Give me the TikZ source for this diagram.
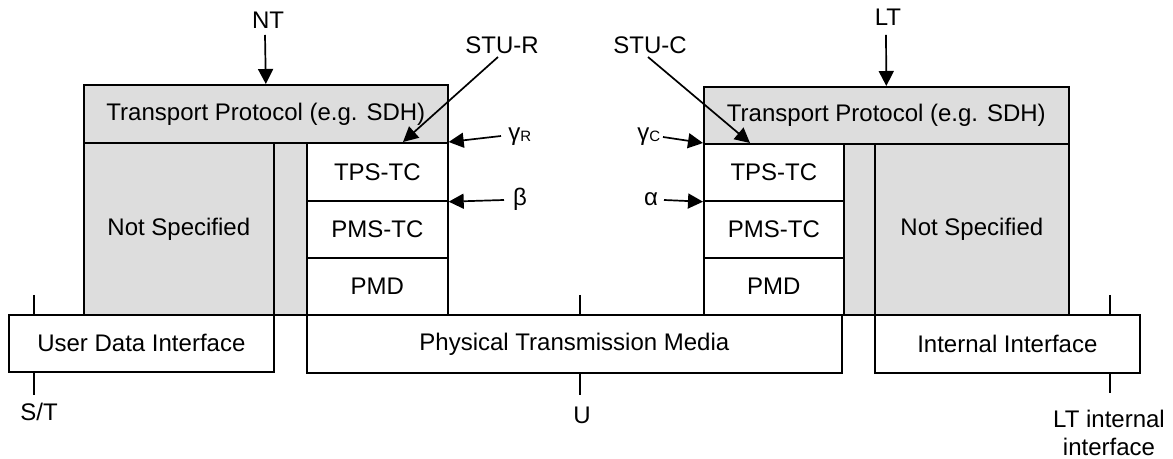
\documentclass[tikz,border=0pt]{standalone}
\usepackage{fontspec}
\setmainfont{Liberation Sans}
\usetikzlibrary{arrows.meta}
\definecolor{fillgray}{RGB}{221,221,221}
\begin{document}
\begin{tikzpicture}[x=0.5pt,y=-0.5pt,
  font=\fontsize{12pt}{14pt}\selectfont,
  box/.style={draw, line width=0.85pt, inner sep=0pt, anchor=north west},
  greybox/.style={box, fill=fillgray},
  wbox/.style={box, fill=white},
  lbl/.style={inner sep=0pt},
  arr/.style={-{Triangle[length=7.5pt,width=7.5pt]}, line width=0.85pt},
  tickline/.style={line width=0.85pt}]
\path[use as bounding box, fill=white] (0,0) rectangle (1173,459);

% ---- left side (NT) ----
\node[greybox, minimum width=182pt, minimum height=29pt] (tpL) at (83,84) {Transport Protocol (e.g. SDH)};
\node[greybox, minimum width=95pt, minimum height=86pt] (nsL) at (83,142) {Not Specified};
\node[greybox, minimum width=16.5pt, minimum height=86pt] (stripL) at (273,142) {};
\node[wbox, minimum width=70.5pt, minimum height=29pt] (tpsL) at (306,142) {TPS-TC};
\node[wbox, minimum width=70.5pt, minimum height=28.5pt] (pmsL) at (306,200) {PMS-TC};
\node[wbox, minimum width=70.5pt, minimum height=28.5pt] (pmdL) at (306,257) {PMD};
\node[wbox, minimum width=132.5pt, minimum height=28.5pt] (udi) at (8,314) {User Data Interface};
\node[wbox, minimum width=267.5pt, minimum height=29pt] (ptm) at (306,314) {Physical Transmission Media};

% ---- right side (LT) ----
\node[greybox, minimum width=182.5pt, minimum height=28.5pt] (tpR) at (703,86) {Transport Protocol (e.g. SDH)};
\node[wbox, minimum width=70pt, minimum height=28.5pt] (tpsR) at (703,143) {TPS-TC};
\node[wbox, minimum width=70pt, minimum height=28.5pt] (pmsR) at (703,200) {PMS-TC};
\node[wbox, minimum width=70pt, minimum height=28.5pt] (pmdR) at (703,257) {PMD};
\node[greybox, minimum width=15.5pt, minimum height=85.5pt] (stripR) at (843,143) {};
\node[greybox, minimum width=97pt, minimum height=85.5pt] (nsR) at (874,143) {Not Specified};
\node[wbox, minimum width=132.5pt, minimum height=29pt] (ii) at (874,314) {Internal Interface};

% ---- top labels and arrows ----
\node[lbl] (NT) at (268,20) {NT};
\coordinate (ntA) at (265,35);
\draw[arr] (ntA) -- (tpL.north);

\node[lbl] (LT) at (888,17) {LT};
\coordinate (ltA) at (886,35);
\draw[arr] (ltA) -- (tpR.north);

\node[lbl] (stuR) at (502,45) {STU-R};
\coordinate (stuRA) at (498,57);
\coordinate (stuRB) at (403,142);
\draw[arr] (stuRA) -- (stuRB);

\node[lbl] (stuC) at (650,45) {STU-C};
\coordinate (stuCA) at (648,57);
\coordinate (stuCB) at (750,143);
\draw[arr] (stuCA) -- (stuCB);

\node[lbl, anchor=base west] (gR) at (508,141) {γ\raisebox{-0.5pt}{\fontsize{7.5pt}{8pt}\selectfont R}};
\coordinate (gRA) at (501,136);
\draw[arr] (gRA) -- (tpsL.north east);

\node[lbl] (beta) at (520,199) {β};
\coordinate (betaA) at (504,200);
\draw[arr] (betaA) -- (tpsL.south east);

\node[lbl, anchor=base west] (gC) at (637,141) {γ\raisebox{-0.5pt}{\fontsize{7.5pt}{8pt}\selectfont C}};
\coordinate (gCA) at (663,137);
\draw[arr] (gCA) -- (tpsR.north west);

\node[lbl] (alpha) at (651,199) {α};
\coordinate (alphaA) at (664,200);
\draw[arr] (alphaA) -- (tpsR.south west);

% ---- reference points ----
\coordinate (stA) at (34,295);
\coordinate (stB) at (34,395);
\draw[tickline] (stA) -- (stA |- udi.north);
\draw[tickline] (stB |- udi.south) -- (stB);
\node[lbl] (st) at (39,412) {S/T};

\coordinate (uA) at (580,295);
\coordinate (uB) at (580,395);
\draw[tickline] (uA) -- (uA |- ptm.north);
\draw[tickline] (uB |- ptm.south) -- (uB);
\node[lbl] (u) at (582,415) {U};

\coordinate (ltiA) at (1110,295);
\coordinate (ltiB) at (1110,393);
\draw[tickline] (ltiA) -- (ltiA |- ii.north);
\draw[tickline] (ltiB |- ii.south) -- (ltiB);
\node[lbl, align=center] (lti) at (1109,433) {LT internal\\interface};
\end{tikzpicture}
\end{document}
